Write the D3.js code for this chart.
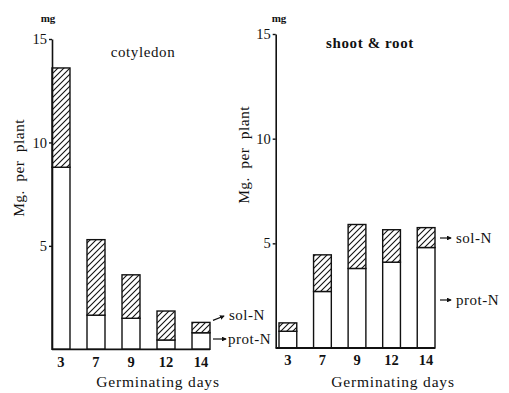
<!DOCTYPE html>
<html>
<head>
<meta charset="utf-8">
<script src="https://cdn.jsdelivr.net/npm/d3@7"></script>
<style>
  html, body { margin: 0; padding: 0; background: #fff; }
  svg { display: block; }
</style>
</head>
<body>
<svg id="chart" width="509" height="393"></svg>
<script>
// ---- data ----
const days = ["3", "7", "9", "12", "14"];
const cotyledonProtN = [8.8, 1.65, 1.5, 0.45, 0.8];
const cotyledonSolN  = [4.8, 3.65, 2.1, 1.4, 0.5];
const shootRootProtN = [0.8, 2.7, 3.8, 4.1, 4.8];
const shootRootSolN  = [0.4, 1.75, 2.1, 1.55, 0.95];
const yTicks = [5, 10, 15];
const panelTitles = ["cotyledon", "shoot & root"];
const yAxisTitle = "Mg.  per  plant";
const xAxisTitle = "Germinating days";
const unitLabel = "mg";

const FONT = "'Liberation Serif', 'DejaVu Serif', 'Times New Roman', serif";
const svg = d3.select("#chart");
const ink = "#111";

// hatch pattern
const defs = svg.append("defs");
const pat = defs.append("pattern")
  .attr("id", "hatch").attr("patternUnits", "userSpaceOnUse")
  .attr("width", 6).attr("height", 6);
pat.append("rect").attr("width", 6).attr("height", 6).attr("fill", "#fff");
pat.append("path").attr("d", "M-1,7 L7,-1 M-4,4 L4,-4 M2,10 L10,2")
  .attr("stroke", ink).attr("stroke-width", 1.1);

defs.append("marker").attr("id", "arrow").attr("viewBox", "0 0 6 6")
  .attr("refX", 5).attr("refY", 3).attr("markerWidth", 4).attr("markerHeight", 4)
  .attr("orient", "auto")
  .append("path").attr("d", "M0,0 L6,3 L0,6 Z").attr("fill", ink);

const panels = [
  { prot: cotyledonProtN, sol: cotyledonSolN, title: panelTitles[0],
    xRange: [52, 210], yRange: [349.3, 39], titleX: 143, titleY: 57,
    unitX: 48, yTitleX: 24, yTitleY: 168, xTitleX: 158 },
  { prot: shootRootProtN, sol: shootRootSolN, title: panelTitles[1],
    xRange: [279, 435], yRange: [348, 34], titleX: 370, titleY: 48,
    unitX: 279, yTitleX: 249, yTitleY: 155, xTitleX: 393, axisX: 275.7 }
];

panels.forEach((p, pi) => {
  const x = d3.scaleBand().domain(days).range(p.xRange).paddingInner(0.486).paddingOuter(0);
  const y = d3.scaleLinear().domain([0, 15]).range(p.yRange);
  const axisX = p.axisX !== undefined ? p.axisX : p.xRange[0];
  const g = svg.append("g");

  // bars
  days.forEach((d, i) => {
    const prot = p.prot[i], tot = p.prot[i] + p.sol[i];
    g.append("rect")
      .attr("x", x(d)).attr("width", x.bandwidth())
      .attr("y", y(prot)).attr("height", y(0) - y(prot))
      .attr("fill", "#fff").attr("stroke", ink).attr("stroke-width", 1.4);
    g.append("rect")
      .attr("x", x(d)).attr("width", x.bandwidth())
      .attr("y", y(tot)).attr("height", y(prot) - y(tot))
      .attr("fill", "url(#hatch)").attr("stroke", ink).attr("stroke-width", 1.4);
  });

  // y axis
  const ya = g.append("g").attr("transform", `translate(${axisX},0)`)
    .call(d3.axisLeft(y).tickValues(yTicks).tickSize(3).tickSizeOuter(0).tickPadding(2));
  ya.select(".domain").attr("stroke", ink).attr("stroke-width", 1.6);
  ya.selectAll(".tick line").attr("stroke", ink).attr("stroke-width", 1.4);
  ya.selectAll(".tick text").style("font-size", "14.5px").style("font-family", FONT).attr("fill", ink);

  // x axis
  const xa = g.append("g").attr("transform", `translate(0,${y(0)})`)
    .call(d3.axisBottom(x).tickSize(0).tickSizeOuter(0).tickPadding(7));
  xa.select(".domain").attr("d", `M${axisX},0H${p.xRange[1]}`)
    .attr("stroke", ink).attr("stroke-width", 1.8);
  xa.selectAll(".tick text").style("font-size", "14.5px").style("font-weight", "bold")
    .style("font-family", FONT).attr("fill", ink);

  // unit label
  g.append("text").attr("x", p.unitX).attr("y", 22).attr("text-anchor", "middle")
    .style("font-family", FONT).style("font-size", "11px").style("font-weight", "bold")
    .attr("fill", ink).text(unitLabel);

  // panel title
  g.append("text").attr("x", p.titleX).attr("y", p.titleY).attr("text-anchor", "middle")
    .style("font-family", FONT).style("font-size", "15px").style("letter-spacing", "0.6px")
    .style("font-weight", pi === 1 ? "bold" : "normal").attr("fill", ink).text(p.title);

  // y axis title
  g.append("text").attr("transform", `translate(${p.yTitleX},${p.yTitleY}) rotate(-90)`)
    .attr("text-anchor", "middle").style("white-space", "pre")
    .style("font-family", FONT).style("font-size", "15.5px").style("letter-spacing", "0.4px")
    .attr("fill", ink).text(yAxisTitle);

  // x axis title
  g.append("text").attr("x", p.xTitleX).attr("y", 387).attr("text-anchor", "middle")
    .style("font-family", FONT).style("font-size", "15.5px").style("letter-spacing", "0.8px")
    .attr("fill", ink).text(xAxisTitle);

  // annotations
  const lastBand = x(days[days.length - 1]) + x.bandwidth();
  const lastProt = p.prot[p.prot.length - 1];
  const lastTot = lastProt + p.sol[p.sol.length - 1];
  const annot = (sel) => sel.style("font-family", FONT).style("font-size", "15px")
    .style("letter-spacing", "0.5px").attr("fill", ink);
  if (pi === 0) {
    g.append("line").attr("x1", lastBand + 3).attr("y1", y(lastTot) - 2)
      .attr("x2", lastBand + 14).attr("y2", 316)
      .attr("stroke", ink).attr("stroke-width", 1.2).attr("marker-end", "url(#arrow)");
    annot(g.append("text").attr("x", 229).attr("y", 320).text("sol-N"));
    g.append("line").attr("x1", lastBand + 3).attr("y1", 339)
      .attr("x2", lastBand + 16).attr("y2", 339)
      .attr("stroke", ink).attr("stroke-width", 1.2).attr("marker-end", "url(#arrow)");
    annot(g.append("text").attr("x", 228).attr("y", 344).text("prot-N"));
  } else {
    g.append("line").attr("x1", 440).attr("y1", 238).attr("x2", 451).attr("y2", 238)
      .attr("stroke", ink).attr("stroke-width", 1.2).attr("marker-end", "url(#arrow)");
    annot(g.append("text").attr("x", 456).attr("y", 243).text("sol-N"));
    g.append("line").attr("x1", 440).attr("y1", 300).attr("x2", 451).attr("y2", 300)
      .attr("stroke", ink).attr("stroke-width", 1.2).attr("marker-end", "url(#arrow)");
    annot(g.append("text").attr("x", 456).attr("y", 305).text("prot-N"));
  }
});
</script>
</body>
</html>
